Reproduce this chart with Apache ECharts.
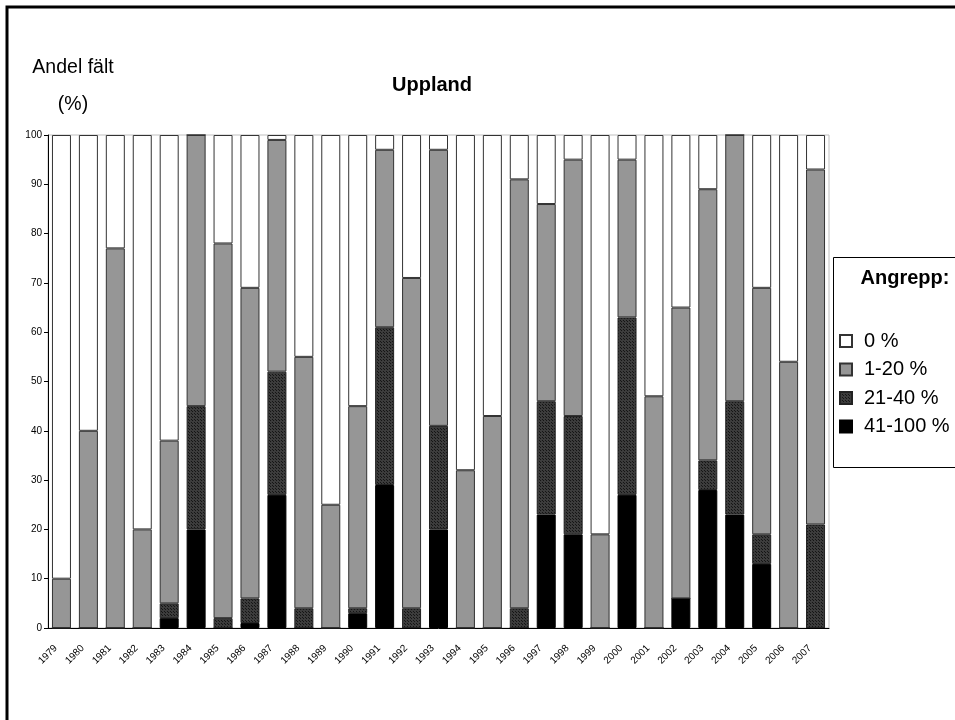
<!DOCTYPE html>
<html style="height: 100%">
<head>
<meta charset="utf-8">
</head>
<body style="height: 100%; margin: 0; background: #fff">
<div id="container" style="width: 955px; height: 720px"></div>
<script type="text/javascript" src="https://cdn.jsdelivr.net/npm/echarts@6/dist/echarts.min.js"></script>
<script type="text/javascript">
var years = ['1979','1980','1981','1982','1983','1984','1985','1986','1987','1988',
  '1989','1990','1991','1992','1993','1994','1995','1996','1997','1998',
  '1999','2000','2001','2002','2003','2004','2005','2006','2007'];

// share of fields per attack class (%)
var attack41_100 = [0,0,0,0,2,20,0,1,27,0,0,3,29,0,20,0,0,0,23,19,0,27,0,6,28,23,13,0,0];
var attack21_40 = [0,0,0,0,3,25,2,5,25,4,0,1,32,4,21,0,0,4,23,24,0,36,0,0,6,23,6,0,21];
var attack1_20 = [10,40,77,20,33,55,76,63,47,51,25,41,36,67,56,32,43,87,40,52,19,32,47,59,55,54,50,54,72];
var attack0 = [90,60,23,80,62,0,22,31,1,45,75,55,3,29,3,68,57,9,14,5,81,5,53,35,11,0,31,46,7];

var legendNames = ['0 %', '1-20 %', '21-40 %', '41-100 %'];

// dotted dark fill like the original
var pat = document.createElement('canvas');
pat.width = 3; pat.height = 3;
var pctx = pat.getContext('2d');
pctx.fillStyle = '#3c3c3c';
pctx.fillRect(0, 0, 3, 3);
pctx.fillStyle = '#151515';
pctx.fillRect(0, 0, 1, 1);
pctx.fillRect(2, 2, 1, 1);

var dom = document.getElementById('container');
var myChart = echarts.init(dom);
var font = 'Liberation Sans';

function bar(name, data, color, border) {
  return {
    name: name,
    type: 'bar',
    stack: 'all',
    data: data,
    barWidth: 19,
    itemStyle: { color: color, borderColor: border, borderWidth: 1 }
  };
}

var option = {
  animation: false,
  backgroundColor: '#fff',
  textStyle: { fontFamily: font },
  title: [
    { text: 'Uppland', left: 427, top: 70, textAlign: 'center',
      textStyle: { fontSize: 20, fontWeight: 'bold', color: '#000', fontFamily: font } },
    { text: 'Andel fält', left: 68, top: 53, textAlign: 'center',
      textStyle: { fontSize: 19.5, fontWeight: 'normal', color: '#000', fontFamily: font } },
    { text: '(%)', left: 68, top: 90, textAlign: 'center',
      textStyle: { fontSize: 19.5, fontWeight: 'normal', color: '#000', fontFamily: font } },
    { text: 'Angrepp:', left: 900, top: 263, textAlign: 'center',
      textStyle: { fontSize: 20, fontWeight: 'bold', color: '#000', fontFamily: font } }
  ],
  graphic: [
    { type: 'rect', shape: { x: 7, y: 7, width: 970, height: 740 },
      style: { fill: 'none', stroke: '#000', lineWidth: 3 }, z: 100 },
    { type: 'rect', shape: { x: 833.5, y: 257.5, width: 140, height: 210 },
      style: { fill: '#fff', stroke: '#000', lineWidth: 1 }, z: 0 }
  ],
  legend: {
    data: legendNames,
    orient: 'vertical',
    left: 839,
    top: 331,
    padding: 0,
    itemWidth: 12,
    itemHeight: 12,
    itemGap: 8.5,
    icon: 'rect',
    textStyle: { fontSize: 20, color: '#000', fontFamily: font, padding: [0, 0, 0, 7] }
  },
  grid: {
    left: 48,
    right: 126,
    top: 135,
    bottom: 92,
    show: true,
    borderColor: '#c0c0c0',
    borderWidth: 1
  },
  xAxis: {
    type: 'category',
    data: years,
    axisLine: { lineStyle: { color: '#000' } },
    axisTick: { length: 4, lineStyle: { color: '#000' } },
    axisLabel: { rotate: 45, fontSize: 10, color: '#000', margin: 13, padding: [0, 8, 0, 0] }
  },
  yAxis: {
    type: 'value',
    min: 0,
    max: 100,
    interval: 10,
    splitLine: { show: false },
    axisLine: { show: true, lineStyle: { color: '#000' } },
    axisTick: { show: true, length: 4, lineStyle: { color: '#000' } },
    axisLabel: { fontSize: 10, color: '#000', margin: 6 }
  },
  series: [
    bar('41-100 %', attack41_100, '#000000', '#000'),
    bar('21-40 %', attack21_40, { image: pat, repeat: 'repeat' }, '#222'),
    bar('1-20 %', attack1_20, '#969696', '#333'),
    bar('0 %', attack0, '#ffffff', '#333')
  ]
};

myChart.setOption(option);
</script>
</body>
</html>
